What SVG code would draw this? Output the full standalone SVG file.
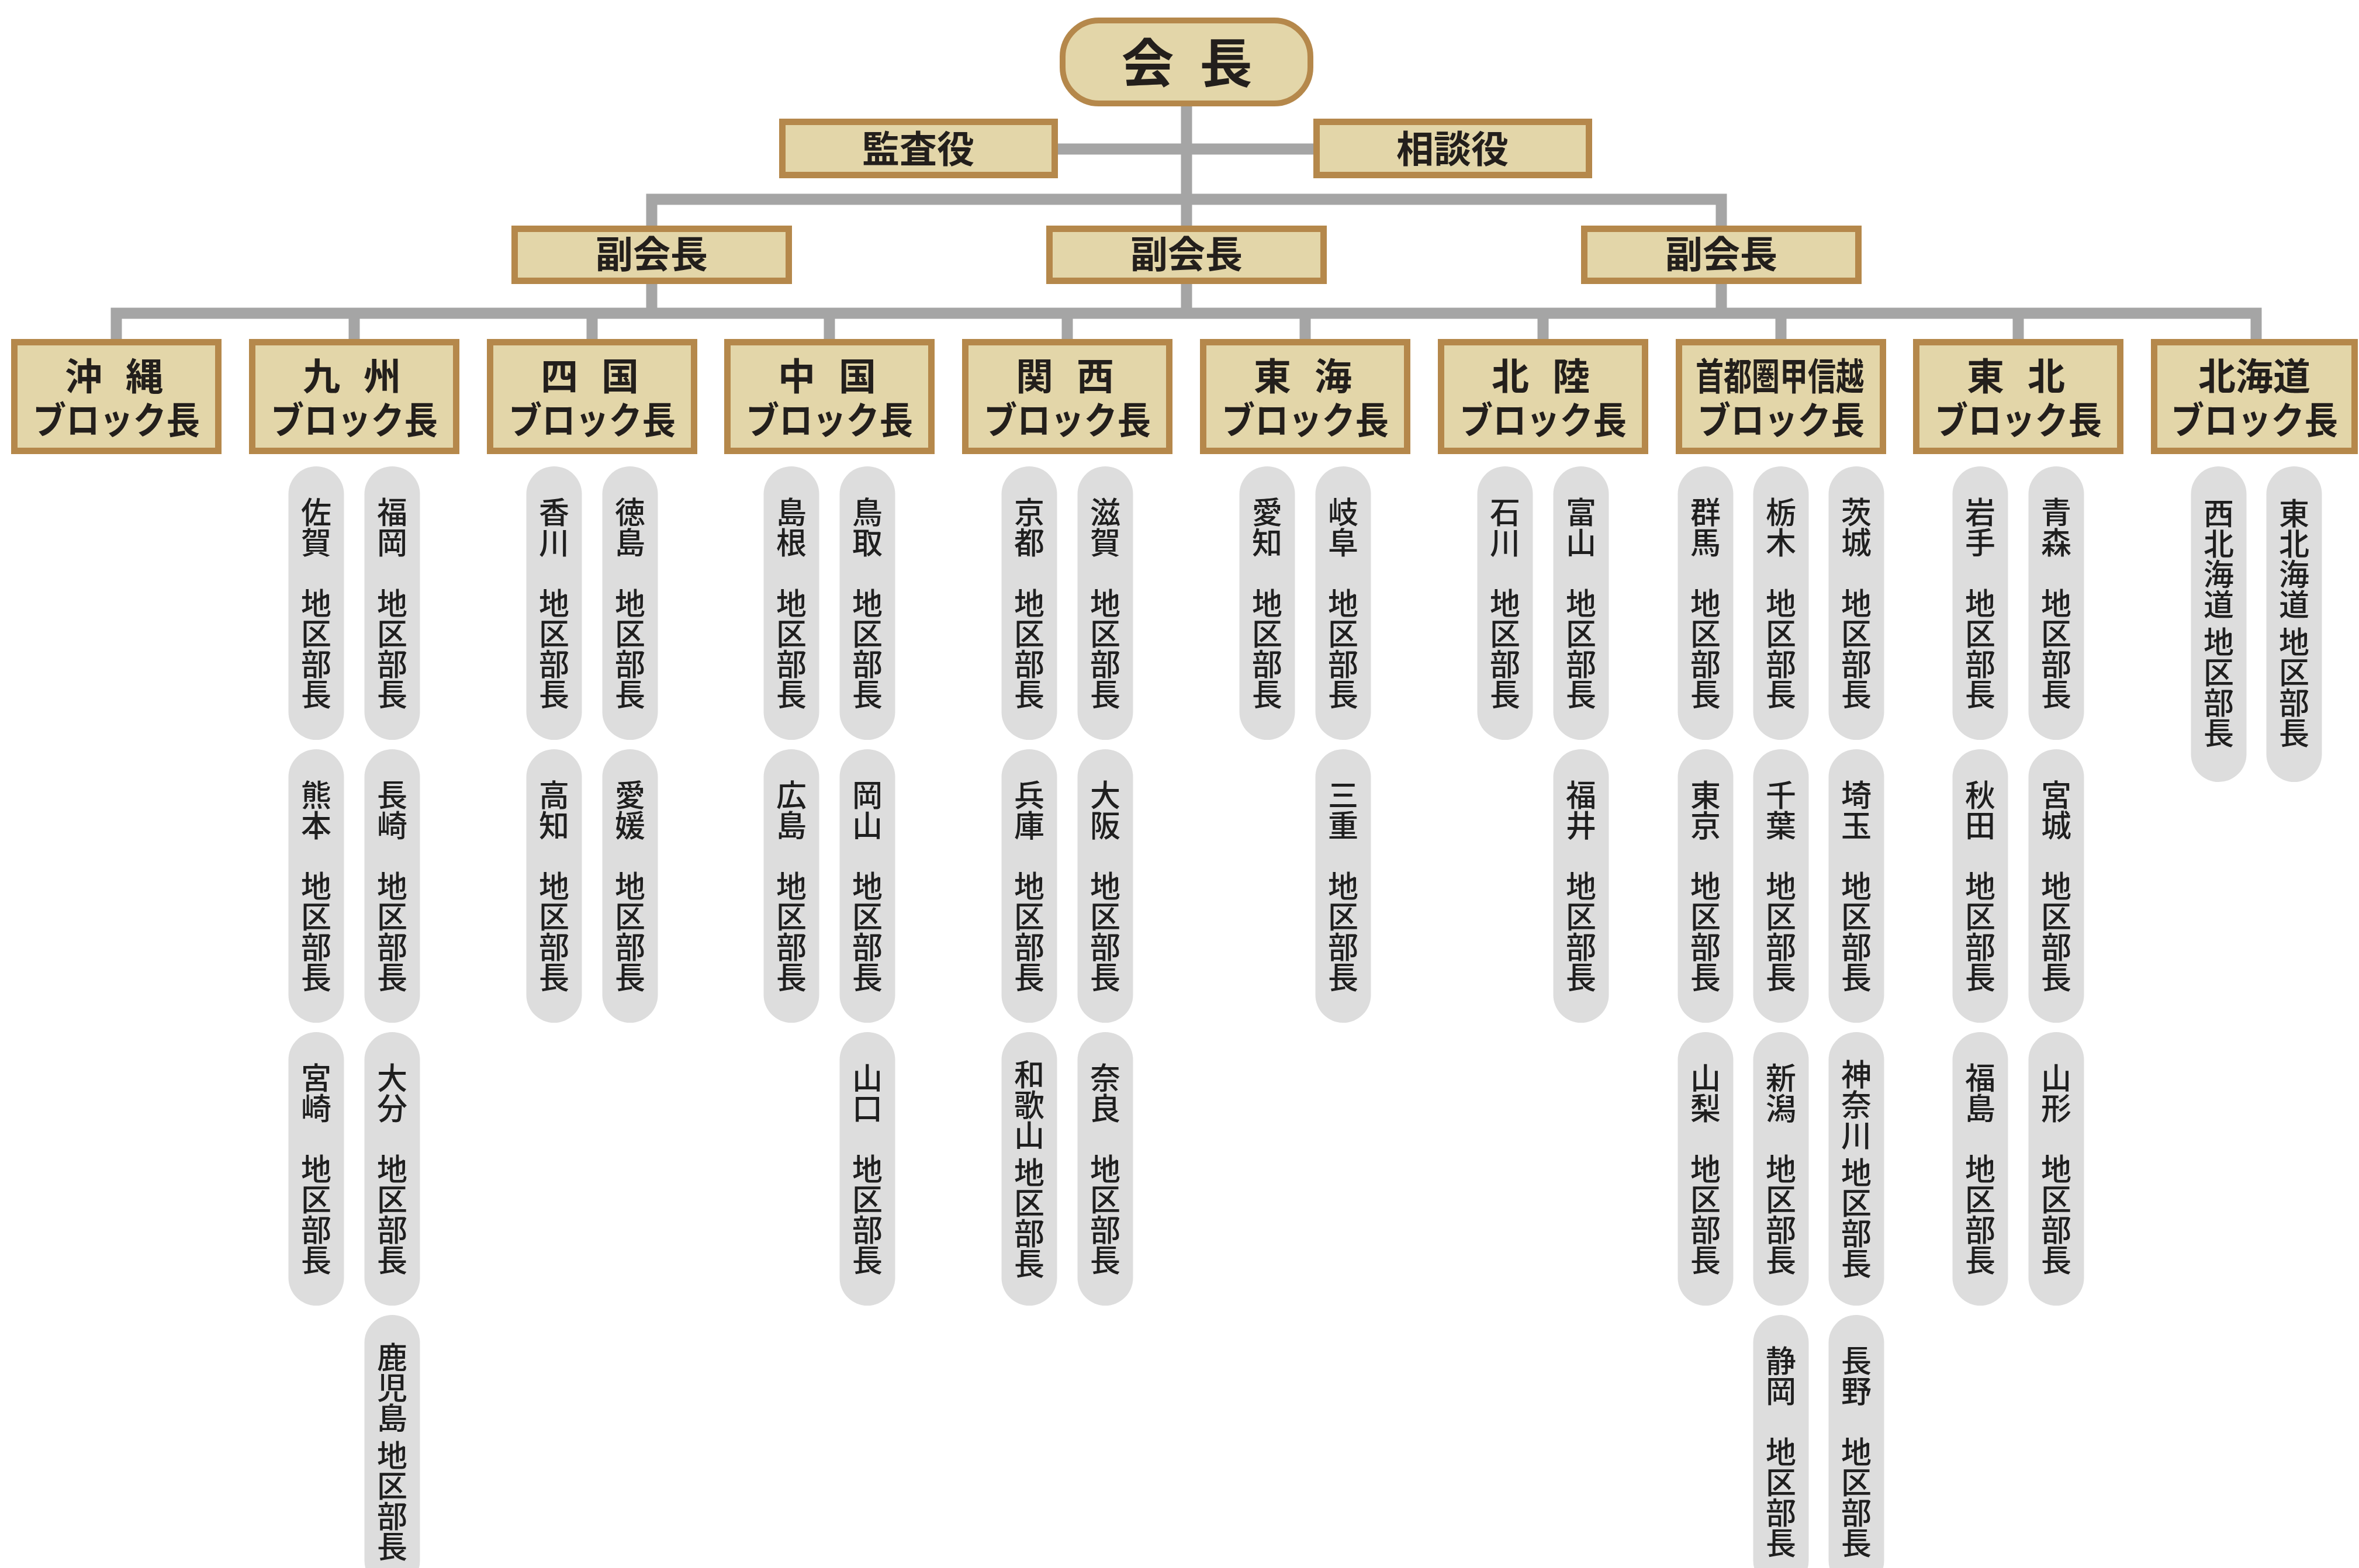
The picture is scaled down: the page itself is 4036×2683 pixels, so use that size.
<svg xmlns="http://www.w3.org/2000/svg" width="4036" height="2683" viewBox="0 0 4036 2683">
<style>
.box{fill:#e3d6a9;stroke:#b5884b;stroke-width:11}
.pill{fill:#dddddd}
.t{font-family:"Noto Sans CJK JP","Noto Sans CJK SC",sans-serif;font-weight:bold;fill:#231f1c;text-anchor:middle;font-size:64px}
.sp{letter-spacing:-12px}
.v{font-family:"Noto Sans CJK JP","Noto Sans CJK SC",sans-serif;font-weight:500;fill:#1f1f1f;text-anchor:middle;font-size:52px;writing-mode:vertical-rl}
.conn{fill:none;stroke:#a5a5a5;stroke-width:19;stroke-linejoin:miter;stroke-linecap:butt}
</style>
<rect width="4036" height="2683" fill="#ffffff"/>
<g id="connectors" class="conn">
<path d="M2030 180 V386"/>
<path d="M1810 255 H2247"/>
<path d="M1115 386 V341 H2945 V386"/>
<path d="M1115 486 V536"/>
<path d="M2030 486 V536"/>
<path d="M2945 486 V536"/>
<path d="M199 580 V536 H3860 V580"/>
<path d="M606 536 V580"/>
<path d="M1013 536 V580"/>
<path d="M1419 536 V580"/>
<path d="M1826 536 V580"/>
<path d="M2233 536 V580"/>
<path d="M2640 536 V580"/>
<path d="M3047 536 V580"/>
<path d="M3453 536 V580"/>
</g>
<g id="president">
<rect class="box" x="1818" y="35" width="424" height="142" rx="62" ry="62" style="stroke-width:10"/>
<text class="t" x="2019" y="141" style="font-size:90px;letter-spacing:-23px">会　長</text>
</g>
<g id="auditor">
<rect class="box" x="1338.5" y="208.5" width="466" height="91"/>
<text class="t" x="1571" y="278">監査役</text>
</g>
<g id="advisor">
<rect class="box" x="2252.5" y="208.5" width="466" height="91"/>
<text class="t" x="2485" y="278">相談役</text>
</g>
<g id="vp-left">
<rect class="box" x="880.5" y="391.5" width="469" height="89"/>
<text class="t" x="1115" y="458">副会長</text>
</g>
<g id="vp-center">
<rect class="box" x="1795.5" y="391.5" width="469" height="89"/>
<text class="t" x="2030" y="458">副会長</text>
</g>
<g id="vp-right">
<rect class="box" x="2710.5" y="391.5" width="469" height="89"/>
<text class="t" x="2945" y="458">副会長</text>
</g>
<g id="block-okinawa">
<rect class="box" x="24.5" y="585.5" width="349" height="186"/>
<text class="t"><tspan class="sp" x="189" y="667">沖　縄</tspan><tspan x="199" y="742" textLength="286" lengthAdjust="spacingAndGlyphs">ブロック長</tspan></text>
</g>
<g id="block-kyushu">
<rect class="box" x="431.5" y="585.5" width="349" height="186"/>
<text class="t"><tspan class="sp" x="596" y="667">九　州</tspan><tspan x="606" y="742" textLength="286" lengthAdjust="spacingAndGlyphs">ブロック長</tspan></text>
</g>
<g id="block-shikoku">
<rect class="box" x="838.5" y="585.5" width="349" height="186"/>
<text class="t"><tspan class="sp" x="1003" y="667">四　国</tspan><tspan x="1013" y="742" textLength="286" lengthAdjust="spacingAndGlyphs">ブロック長</tspan></text>
</g>
<g id="block-chugoku">
<rect class="box" x="1244.5" y="585.5" width="349" height="186"/>
<text class="t"><tspan class="sp" x="1409" y="667">中　国</tspan><tspan x="1419" y="742" textLength="286" lengthAdjust="spacingAndGlyphs">ブロック長</tspan></text>
</g>
<g id="block-kansai">
<rect class="box" x="1651.5" y="585.5" width="349" height="186"/>
<text class="t"><tspan class="sp" x="1816" y="667">関　西</tspan><tspan x="1826" y="742" textLength="286" lengthAdjust="spacingAndGlyphs">ブロック長</tspan></text>
</g>
<g id="block-tokai">
<rect class="box" x="2058.5" y="585.5" width="349" height="186"/>
<text class="t"><tspan class="sp" x="2223" y="667">東　海</tspan><tspan x="2233" y="742" textLength="286" lengthAdjust="spacingAndGlyphs">ブロック長</tspan></text>
</g>
<g id="block-hokuriku">
<rect class="box" x="2465.5" y="585.5" width="349" height="186"/>
<text class="t"><tspan class="sp" x="2630" y="667">北　陸</tspan><tspan x="2640" y="742" textLength="286" lengthAdjust="spacingAndGlyphs">ブロック長</tspan></text>
</g>
<g id="block-shutoken">
<rect class="box" x="2872.5" y="585.5" width="349" height="186"/>
<text class="t"><tspan x="3045" y="667" textLength="288" lengthAdjust="spacingAndGlyphs">首都圏甲信越</tspan><tspan x="3047" y="742" textLength="286" lengthAdjust="spacingAndGlyphs">ブロック長</tspan></text>
</g>
<g id="block-tohoku">
<rect class="box" x="3278.5" y="585.5" width="349" height="186"/>
<text class="t"><tspan class="sp" x="3443" y="667">東　北</tspan><tspan x="3453" y="742" textLength="286" lengthAdjust="spacingAndGlyphs">ブロック長</tspan></text>
</g>
<g id="block-hokkaido">
<rect class="box" x="3685.5" y="585.5" width="343" height="186"/>
<text class="t"><tspan x="3857" y="667">北海道</tspan><tspan x="3857" y="742" textLength="286" lengthAdjust="spacingAndGlyphs">ブロック長</tspan></text>
</g>
<g id="districts-kyushu">
<g id="d-saga"><rect class="pill" x="493.5" y="798" width="95" height="468" rx="47.5"/><text class="v" x="541" y="1032">佐賀　地区部長</text></g>
<g id="d-kumamoto"><rect class="pill" x="493.5" y="1282" width="95" height="468" rx="47.5"/><text class="v" x="541" y="1516">熊本　地区部長</text></g>
<g id="d-miyazaki"><rect class="pill" x="493.5" y="1766" width="95" height="468" rx="47.5"/><text class="v" x="541" y="2000">宮崎　地区部長</text></g>
<g id="d-fukuoka"><rect class="pill" x="623.5" y="798" width="95" height="468" rx="47.5"/><text class="v" x="671" y="1032">福岡　地区部長</text></g>
<g id="d-nagasaki"><rect class="pill" x="623.5" y="1282" width="95" height="468" rx="47.5"/><text class="v" x="671" y="1516">長崎　地区部長</text></g>
<g id="d-oita"><rect class="pill" x="623.5" y="1766" width="95" height="468" rx="47.5"/><text class="v" x="671" y="2000">大分　地区部長</text></g>
<g id="d-kagoshima"><rect class="pill" x="623.5" y="2250" width="95" height="468" rx="47.5"/><text class="v" x="671" y="2484">鹿児島 地区部長</text></g>
</g>
<g id="districts-shikoku">
<g id="d-kagawa"><rect class="pill" x="900.5" y="798" width="95" height="468" rx="47.5"/><text class="v" x="948" y="1032">香川　地区部長</text></g>
<g id="d-kochi"><rect class="pill" x="900.5" y="1282" width="95" height="468" rx="47.5"/><text class="v" x="948" y="1516">高知　地区部長</text></g>
<g id="d-tokushima"><rect class="pill" x="1030.5" y="798" width="95" height="468" rx="47.5"/><text class="v" x="1078" y="1032">徳島　地区部長</text></g>
<g id="d-ehime"><rect class="pill" x="1030.5" y="1282" width="95" height="468" rx="47.5"/><text class="v" x="1078" y="1516">愛媛　地区部長</text></g>
</g>
<g id="districts-chugoku">
<g id="d-shimane"><rect class="pill" x="1306.5" y="798" width="95" height="468" rx="47.5"/><text class="v" x="1354" y="1032">島根　地区部長</text></g>
<g id="d-hiroshima"><rect class="pill" x="1306.5" y="1282" width="95" height="468" rx="47.5"/><text class="v" x="1354" y="1516">広島　地区部長</text></g>
<g id="d-tottori"><rect class="pill" x="1436.5" y="798" width="95" height="468" rx="47.5"/><text class="v" x="1484" y="1032">鳥取　地区部長</text></g>
<g id="d-okayama"><rect class="pill" x="1436.5" y="1282" width="95" height="468" rx="47.5"/><text class="v" x="1484" y="1516">岡山　地区部長</text></g>
<g id="d-yamaguchi"><rect class="pill" x="1436.5" y="1766" width="95" height="468" rx="47.5"/><text class="v" x="1484" y="2000">山口　地区部長</text></g>
</g>
<g id="districts-kansai">
<g id="d-kyoto"><rect class="pill" x="1713.5" y="798" width="95" height="468" rx="47.5"/><text class="v" x="1761" y="1032">京都　地区部長</text></g>
<g id="d-hyogo"><rect class="pill" x="1713.5" y="1282" width="95" height="468" rx="47.5"/><text class="v" x="1761" y="1516">兵庫　地区部長</text></g>
<g id="d-wakayama"><rect class="pill" x="1713.5" y="1766" width="95" height="468" rx="47.5"/><text class="v" x="1761" y="2000">和歌山 地区部長</text></g>
<g id="d-shiga"><rect class="pill" x="1843.5" y="798" width="95" height="468" rx="47.5"/><text class="v" x="1891" y="1032">滋賀　地区部長</text></g>
<g id="d-osaka"><rect class="pill" x="1843.5" y="1282" width="95" height="468" rx="47.5"/><text class="v" x="1891" y="1516">大阪　地区部長</text></g>
<g id="d-nara"><rect class="pill" x="1843.5" y="1766" width="95" height="468" rx="47.5"/><text class="v" x="1891" y="2000">奈良　地区部長</text></g>
</g>
<g id="districts-tokai">
<g id="d-aichi"><rect class="pill" x="2120.5" y="798" width="95" height="468" rx="47.5"/><text class="v" x="2168" y="1032">愛知　地区部長</text></g>
<g id="d-gifu"><rect class="pill" x="2250.5" y="798" width="95" height="468" rx="47.5"/><text class="v" x="2298" y="1032">岐阜　地区部長</text></g>
<g id="d-mie"><rect class="pill" x="2250.5" y="1282" width="95" height="468" rx="47.5"/><text class="v" x="2298" y="1516">三重　地区部長</text></g>
</g>
<g id="districts-hokuriku">
<g id="d-ishikawa"><rect class="pill" x="2527.5" y="798" width="95" height="468" rx="47.5"/><text class="v" x="2575" y="1032">石川　地区部長</text></g>
<g id="d-toyama"><rect class="pill" x="2657.5" y="798" width="95" height="468" rx="47.5"/><text class="v" x="2705" y="1032">富山　地区部長</text></g>
<g id="d-fukui"><rect class="pill" x="2657.5" y="1282" width="95" height="468" rx="47.5"/><text class="v" x="2705" y="1516">福井　地区部長</text></g>
</g>
<g id="districts-shutoken">
<g id="d-gunma"><rect class="pill" x="2870.5" y="798" width="95" height="468" rx="47.5"/><text class="v" x="2918" y="1032">群馬　地区部長</text></g>
<g id="d-tokyo"><rect class="pill" x="2870.5" y="1282" width="95" height="468" rx="47.5"/><text class="v" x="2918" y="1516">東京　地区部長</text></g>
<g id="d-yamanashi"><rect class="pill" x="2870.5" y="1766" width="95" height="468" rx="47.5"/><text class="v" x="2918" y="2000">山梨　地区部長</text></g>
<g id="d-tochigi"><rect class="pill" x="2999.5" y="798" width="95" height="468" rx="47.5"/><text class="v" x="3047" y="1032">栃木　地区部長</text></g>
<g id="d-chiba"><rect class="pill" x="2999.5" y="1282" width="95" height="468" rx="47.5"/><text class="v" x="3047" y="1516">千葉　地区部長</text></g>
<g id="d-niigata"><rect class="pill" x="2999.5" y="1766" width="95" height="468" rx="47.5"/><text class="v" x="3047" y="2000">新潟　地区部長</text></g>
<g id="d-shizuoka"><rect class="pill" x="2999.5" y="2250" width="95" height="468" rx="47.5"/><text class="v" x="3047" y="2484">静岡　地区部長</text></g>
<g id="d-ibaraki"><rect class="pill" x="3128.5" y="798" width="95" height="468" rx="47.5"/><text class="v" x="3176" y="1032">茨城　地区部長</text></g>
<g id="d-saitama"><rect class="pill" x="3128.5" y="1282" width="95" height="468" rx="47.5"/><text class="v" x="3176" y="1516">埼玉　地区部長</text></g>
<g id="d-kanagawa"><rect class="pill" x="3128.5" y="1766" width="95" height="468" rx="47.5"/><text class="v" x="3176" y="2000">神奈川 地区部長</text></g>
<g id="d-nagano"><rect class="pill" x="3128.5" y="2250" width="95" height="468" rx="47.5"/><text class="v" x="3176" y="2484">長野　地区部長</text></g>
</g>
<g id="districts-tohoku">
<g id="d-iwate"><rect class="pill" x="3340.5" y="798" width="95" height="468" rx="47.5"/><text class="v" x="3388" y="1032">岩手　地区部長</text></g>
<g id="d-akita"><rect class="pill" x="3340.5" y="1282" width="95" height="468" rx="47.5"/><text class="v" x="3388" y="1516">秋田　地区部長</text></g>
<g id="d-fukushima"><rect class="pill" x="3340.5" y="1766" width="95" height="468" rx="47.5"/><text class="v" x="3388" y="2000">福島　地区部長</text></g>
<g id="d-aomori"><rect class="pill" x="3470.5" y="798" width="95" height="468" rx="47.5"/><text class="v" x="3518" y="1032">青森　地区部長</text></g>
<g id="d-miyagi"><rect class="pill" x="3470.5" y="1282" width="95" height="468" rx="47.5"/><text class="v" x="3518" y="1516">宮城　地区部長</text></g>
<g id="d-yamagata"><rect class="pill" x="3470.5" y="1766" width="95" height="468" rx="47.5"/><text class="v" x="3518" y="2000">山形　地区部長</text></g>
</g>
<g id="districts-hokkaido">
<g id="d-nishi-hokkaido"><rect class="pill" x="3748.5" y="798" width="95" height="540" rx="47.5"/><text class="v" x="3796" y="1066">西北海道 地区部長</text></g>
<g id="d-higashi-hokkaido"><rect class="pill" x="3877.5" y="798" width="95" height="540" rx="47.5"/><text class="v" x="3925" y="1066">東北海道 地区部長</text></g>
</g>
</svg>
